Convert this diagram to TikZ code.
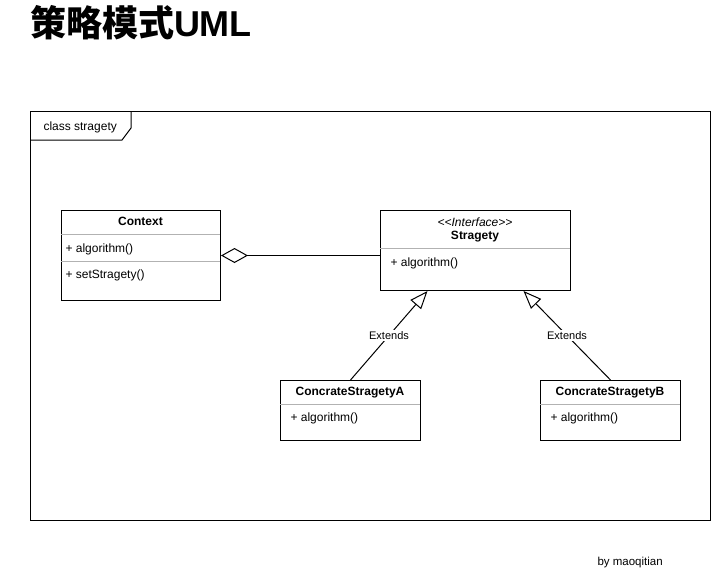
\documentclass[tikz,border=0pt]{standalone}
\usepackage{fontspec}
\setmainfont{Liberation Sans}
\newfontfamily\cjk{Noto Sans CJK SC}
\usetikzlibrary{arrows.meta}

\begin{document}
\begin{tikzpicture}[x=1pt,y=-1pt,line width=1pt,
   classbox/.style={draw,anchor=north west,inner sep=0pt},
   classname/.style={anchor=base,inner sep=0pt,font=\fontsize{12}{14}\selectfont\bfseries},
   member/.style={anchor=base west,inner sep=0pt,font=\fontsize{12}{14}\selectfont},
   divider/.style={draw=gray!60,line width=0.8pt},
   extends/.style={-{Triangle[open,length=18,width=14]}},
   aggregate/.style={{Diamond[open,length=27,width=15]}-}]
   \useasboundingbox (0,0) rectangle (711,571);

   % Title
   \node[anchor=base west,inner sep=0pt,font=\fontsize{36}{40}\selectfont] (title) at (29.5,36.5)
       {{\cjk\bfseries 策略模式}\bfseries UML};

   % Frame with its tab
   \draw (30,111) rectangle (710,520);
   \draw (30,140) -- (122,140) -- (131,128) -- (131,111);
   \node[member] (framelabel) at (43,130) {class stragety};

   % Context class
   \node[classbox,minimum width=159,minimum height=90] (context) at (61,210) {};
   \node[classname] (contextname) at (140.5,225.8) {Context};
   \draw[divider] (61,234) -- (220,234);
   \node[member] (contextalg) at (65,252.4) {+ algorithm()};
   \draw[divider] (61,261.5) -- (220,261.5);
   \node[member] (contextset) at (65,278.4) {+ setStragety()};

   % Stragety interface
   \node[classbox,minimum width=190,minimum height=80] (stragety) at (380,210) {};
   \node[anchor=base,inner sep=0pt,font=\fontsize{12}{14}\selectfont\itshape] (stereo) at (475,226)
       {<{}<Interface>{}>};
   \node[classname] (stragetyname) at (475,239.6) {Stragety};
   \draw[divider] (380,248) -- (570,248);
   \node[member] (stragetyalg) at (390,266) {+ algorithm()};

   % Concrete strategies
   \node[classbox,minimum width=140,minimum height=60] (conca) at (280,380) {};
   \node[classname] (concaname) at (350,395.5) {ConcrateStragetyA};
   \draw[divider] (280,404) -- (420,404);
   \node[member] (concaalg) at (290,421.5) {+ algorithm()};

   \node[classbox,minimum width=140,minimum height=60] (concb) at (540,380) {};
   \node[classname] (concbname) at (610,395.5) {ConcrateStragetyB};
   \draw[divider] (540,404) -- (680,404);
   \node[member] (concbalg) at (550,421.5) {+ algorithm()};

   % Relations
   \draw[aggregate] (context.east) -- (context.east -| stragety.west);
   \draw[extends] (conca.north) -- ([xshift=-48]stragety.south)
       node[midway,fill=white,inner sep=1pt,font=\fontsize{11}{13}\selectfont] (extenda) {Extends};
   \draw[extends] (concb.north) -- ([xshift=48]stragety.south)
       node[midway,fill=white,inner sep=1pt,font=\fontsize{11}{13}\selectfont] (extendb) {Extends};

   % Author
   \node[anchor=base west,inner sep=0pt,font=\fontsize{11.5}{13}\selectfont] (author) at (597,565.5) {by maoqitian};
\end{tikzpicture}
\end{document}
